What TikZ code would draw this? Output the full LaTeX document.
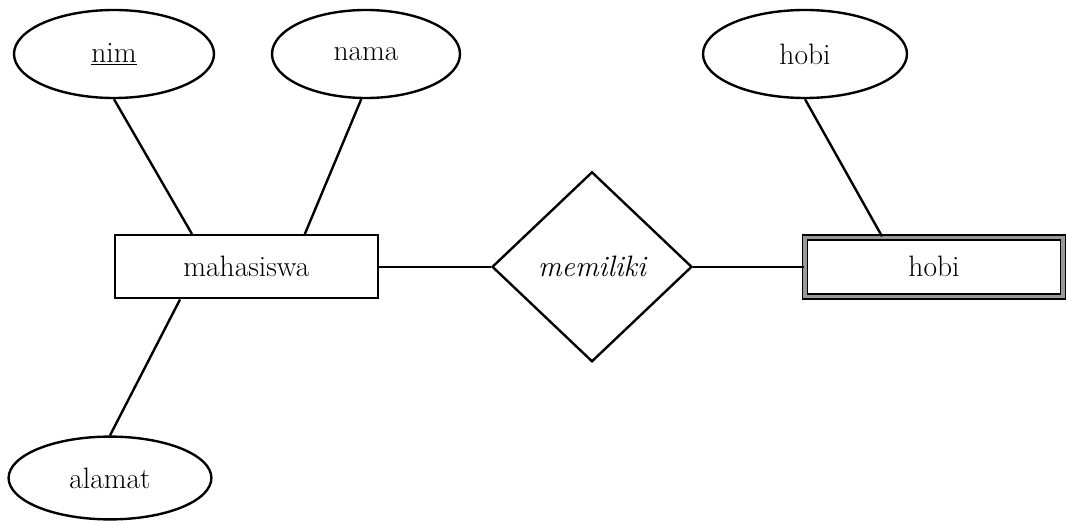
\documentclass[tikz,border=0pt]{standalone}
\usepackage{tikz}
\usetikzlibrary{shapes.geometric}
\tikzset{
	erline/.style={line width=1.7pt, color=black},
	attrib/.style={ellipse, draw, line width=1.7pt, inner sep=0pt, minimum height=2.2cm, font=\fontsize{21}{25}\selectfont},
	entity/.style={rectangle, draw, line width=1.7pt, inner sep=0pt, minimum width=6.575cm, minimum height=1.575cm, font=\fontsize{21}{25}\selectfont},
	weakentity/.style={rectangle, draw=black, double=black!40, line width=1.3pt, double distance=2.2pt, inner sep=0pt, minimum width=6.45cm, minimum height=1.475cm, font=\fontsize{21}{25}\selectfont},
	relation/.style={diamond, draw, line width=1.7pt, inner sep=0pt, minimum width=5cm, minimum height=4.75cm, font=\fontsize{21}{25}\selectfont\itshape}
}

\begin{document}
\begin{tikzpicture}
			%%%%% START %%%%%
			\useasboundingbox (0, 0) rectangle (26.675, 13.1);
			
			\node[entity] (mahasiswa) at (6.16, 6.43) {mahasiswa};
			\node[relation] (memiliki) at (14.8, 6.43) {memiliki};
			\node[weakentity] (hobient) at (23.35, 6.43) {hobi};
			
			\node[attrib, minimum width=5cm] (nim) at (2.85, 11.75) {\underline{nim}};
			\node[attrib, minimum width=4.7cm] (nama) at (9.15, 11.75) {nama};
			\node[attrib, minimum width=5.1cm] (hobi) at (20.125, 11.75) {hobi};
			\node[attrib, minimum width=5.07cm, minimum height=2.07cm] (alamat) at (2.75, 1.15) {alamat};
			
			\draw[erline] (nim.south) -- ([xshift=-1.36cm]mahasiswa.north);
			\draw[erline] (nama.-96) -- ([xshift=1.46cm]mahasiswa.north);
			\draw[erline] (alamat.north) -- ([xshift=-1.66cm]mahasiswa.south);
			\draw[erline] (hobi.south) -- ([xshift=-1.3cm]hobient.north);
			
			\draw[erline] (mahasiswa.east) -- (memiliki.west);
			\draw[erline] (memiliki.east) -- (hobient.west);
			%%%%% END %%%%%
		\end{tikzpicture}
\end{document}
